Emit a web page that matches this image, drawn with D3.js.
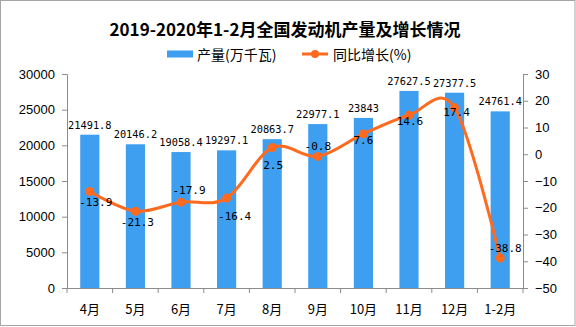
<!DOCTYPE html>
<html>
<head>
<meta charset="utf-8">
<script src="https://cdn.jsdelivr.net/npm/d3@7"></script>
<style>
  html, body { margin: 0; padding: 0; background: #fff; }
  svg { display: block; }
</style>
</head>
<body>
<div id="chart"></div>
<script>
const categories = ["4月", "5月", "6月", "7月", "8月", "9月", "10月", "11月", "12月", "1-2月"];
const output = [21491.8, 20146.2, 19058.4, 19297.1, 20863.7, 22977.1, 23843, 27627.5, 27377.5, 24761.4];
const growth = [-13.9, -21.3, -17.9, -16.4, 2.5, -0.8, 7.6, 14.6, 17.4, -38.8];
const leftTicks = [0, 5000, 10000, 15000, 20000, 25000, 30000];
const rightTicks = [-50, -40, -30, -20, -10, 0, 10, 20, 30];
const titleText = "2019-2020年1-2月全国发动机产量及增长情况";
const legendBar = "产量(万千瓦)";
const legendLine = "同比增长(%)";

// layout: label offsets for growth labels (dx, dy relative to point)
const growthLabelOffset = [[6, 11], [2, 11], [8, -12], [8, 18], [1, 18], [0, -10], [0, 7], [1, 6], [2, 5], [5, -10]];

const W = 576, H = 327;
const m = { left: 67, right: 523, top: 74, bottom: 288 };
const barColor = "#3E9EF0";
const lineColor = "#FF6A1E";
const axisColor = "#8c8c8c";

const svg = d3.select("#chart").append("svg").attr("width", W).attr("height", H);

svg.append("rect").attr("x", 0.5).attr("y", 0.5).attr("width", W - 1.5).attr("height", H - 2)
  .attr("fill", "#fff").attr("stroke", "#a6a6a6").attr("stroke-width", 1);

const x = d3.scaleBand().domain(categories).range([m.left, m.right]).paddingInner(0).paddingOuter(0);
const yL = d3.scaleLinear().domain([0, 30000]).range([m.bottom, m.top]);
const yR = d3.scaleLinear().domain([-50, 30]).range([m.bottom, m.top]);

// title
svg.append("text").attr("x", 285).attr("y", 28).attr("text-anchor", "middle")
  .attr("dominant-baseline", "central")
  .style("font-family", "'Noto Sans CJK SC', sans-serif").style("font-weight", "bold").style("font-size", "17px")
  .text(titleText);

// legend
const lg = svg.append("g").style("font-family", "'Noto Sans CJK SC', sans-serif").style("font-size", "14px");
lg.append("rect").attr("x", 167).attr("y", 50.5).attr("width", 26).attr("height", 7).attr("fill", barColor);
lg.append("text").attr("x", 197).attr("y", 54).attr("dominant-baseline", "central").text(legendBar);
lg.append("line").attr("x1", 302).attr("x2", 328).attr("y1", 54).attr("y2", 54).attr("stroke", lineColor).attr("stroke-width", 3);
lg.append("circle").attr("cx", 315).attr("cy", 54).attr("r", 4).attr("fill", lineColor);
lg.append("text").attr("x", 333).attr("y", 54).attr("dominant-baseline", "central").text(legendLine);

// axes
const axisFont = "'Liberation Sans', Arial, sans-serif";
const gL = svg.append("g").attr("transform", `translate(${m.left},0)`)
  .call(d3.axisLeft(yL).tickValues(leftTicks).tickSize(5).tickPadding(7).tickFormat(d3.format("d")));
const gR = svg.append("g").attr("transform", `translate(${m.right},0)`)
  .call(d3.axisRight(yR).tickValues(rightTicks).tickSize(5).tickPadding(7).tickFormat(d3.format("d")));
[gL, gR].forEach(g => {
  g.select(".domain").attr("stroke", axisColor);
  g.selectAll(".tick line").attr("stroke", axisColor);
  g.selectAll("text").style("font-family", axisFont).style("font-size", "13px").attr("fill", "#000");
});

// bars
const barW = x.bandwidth() * 0.42;
svg.append("g").selectAll("rect").data(output).join("rect")
  .attr("x", (d, i) => x(categories[i]) + x.bandwidth() / 2 - barW / 2)
  .attr("width", barW)
  .attr("y", d => yL(d))
  .attr("height", d => yL(0) - yL(d))
  .attr("fill", barColor);

// bottom axis
const gB = svg.append("g").attr("transform", `translate(0,${m.bottom})`)
  .call(d3.axisBottom(x).tickSize(0).tickPadding(17));
gB.select(".domain").attr("stroke", axisColor);
gB.selectAll("text").style("font-family", "'Noto Sans CJK SC', sans-serif").style("font-size", "13px").attr("fill", "#000");
const boundaries = categories.map(c => x(c)).concat([m.right]);
gB.selectAll(".bt").data(boundaries).join("line").attr("class", "bt")
  .attr("x1", d => d).attr("x2", d => d).attr("y1", 0).attr("y2", 5).attr("stroke", axisColor);

// bar labels
const monoFont = "'DejaVu Sans Mono', 'Liberation Mono', monospace";
svg.append("g").selectAll("text").data(output).join("text")
  .attr("x", (d, i) => x(categories[i]) + x.bandwidth() / 2)
  .attr("y", d => yL(d) - 6)
  .attr("text-anchor", "middle")
  .style("font-family", monoFont).style("font-size", "10.3px").attr("fill", "#000")
  .text(d => d);

// line
const pts = growth.map((v, i) => [x(categories[i]) + x.bandwidth() / 2, yR(v)]);
svg.append("path").datum(pts)
  .attr("d", d3.line().curve(d3.curveCardinal.tension(0)))
  .attr("fill", "none").attr("stroke", lineColor).attr("stroke-width", 3);
svg.append("g").selectAll("circle").data(pts).join("circle")
  .attr("cx", d => d[0]).attr("cy", d => d[1]).attr("r", 4.5).attr("fill", lineColor);

// growth labels
svg.append("g").selectAll("text").data(growth).join("text")
  .attr("x", (d, i) => pts[i][0] + growthLabelOffset[i][0])
  .attr("y", (d, i) => pts[i][1] + growthLabelOffset[i][1])
  .attr("text-anchor", "middle").attr("dominant-baseline", "central")
  .style("font-family", monoFont).style("font-size", "11px").attr("fill", "#000")
  .text(d => d);
</script>
</body>
</html>
